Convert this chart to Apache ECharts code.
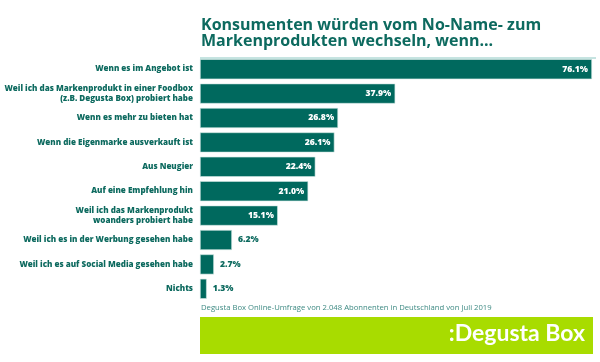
<!DOCTYPE html>
<html><head><meta charset="utf-8">
<script src="https://cdn.jsdelivr.net/npm/echarts@6/dist/echarts.min.js"></script>
<style>html,body{margin:0;padding:0;background:#fff}#c{width:600px;height:362px}</style>
</head><body><div id="c"></div>
<script>
const categories = [
  "Wenn es im Angebot ist",
  "Weil ich das Markenprodukt in einer Foodbox\n(z.B. Degusta Box) probiert habe",
  "Wenn es mehr zu bieten hat",
  "Wenn die Eigenmarke ausverkauft ist",
  "Aus Neugier",
  "Auf eine Empfehlung hin",
  "Weil ich das Markenprodukt\nwoanders probiert habe",
  "Weil ich es in der Werbung gesehen habe",
  "Weil ich es auf Social Media gesehen habe",
  "Nichts"
];
const values = [76.1, 37.9, 26.8, 26.1, 22.4, 21.0, 15.1, 6.2, 2.7, 1.3];
const titleLines = ["Konsumenten würden vom No-Name- zum", "Markenprodukten wechseln, wenn..."];
const sourceText = "Degusta Box Online-Umfrage von 2.048 Abonnenten in Deutschland von Juli 2019";
const brandText = ":Degusta Box";

const teal = '#00695e';
const textTeal = '#0d6a5f';
const chart = echarts.init(document.getElementById('c'), null, {renderer: 'canvas'});

const seriesData = values.map(v => {
  const inside = v >= 10;
  return {
    value: v,
    label: {
      show: true,
      position: inside ? 'insideRight' : 'right',
      distance: inside ? 4 : 6,
      color: inside ? '#ffffff' : textTeal,
      fontFamily: 'Open Sans',
      fontWeight: 800,
      fontSize: 8.6,
      formatter: p => p.value.toFixed(1) + '%'
    }
  };
});

chart.setOption({
  animation: false,
  grid: {left: 200, right: 7, top: 57, bottom: 61, containLabel: false, outerBoundsMode: 'none'},
  xAxis: {type: 'value', min: 0, max: 76.3, show: false},
  yAxis: {
    type: 'category', data: categories, inverse: true,
    axisLine: {show: false}, axisTick: {show: false},
    axisLabel: {
      margin: 7, color: textTeal, fontFamily: 'Open Sans', fontWeight: 800,
      fontSize: 8.05, lineHeight: 10.5, align: 'right'
    }
  },
  series: [{
    type: 'bar', data: seriesData, barWidth: 20,
    itemStyle: {color: teal, borderColor: '#cfe6e2', borderWidth: 0.6}
  }],
  graphic: [
    {type: 'text', left: 201, top: 17.5, style: {
      text: titleLines.join('\n'), fill: textTeal, font: 'bold 16px "Open Sans"', lineHeight: 16
    }},
    {type: 'line', shape: {x1: 200, y1: 58, x2: 596, y2: 58}, style: {stroke: '#8cc8c2', lineWidth: 1}},
    {type: 'text', left: 201, top: 304, style: {
      text: sourceText, fill: '#3e8a83', font: '7.7px "Open Sans"'
    }},
    {type: 'rect', shape: {x: 200, y: 317, width: 393, height: 37}, style: {fill: '#a8dc00'}},
    {type: 'text', right: 15, top: 322, style: {
      text: brandText, fill: '#ffffff', font: 'bold 23px Lato', textAlign: 'right'
    }}
  ]
});
</script></body></html>
